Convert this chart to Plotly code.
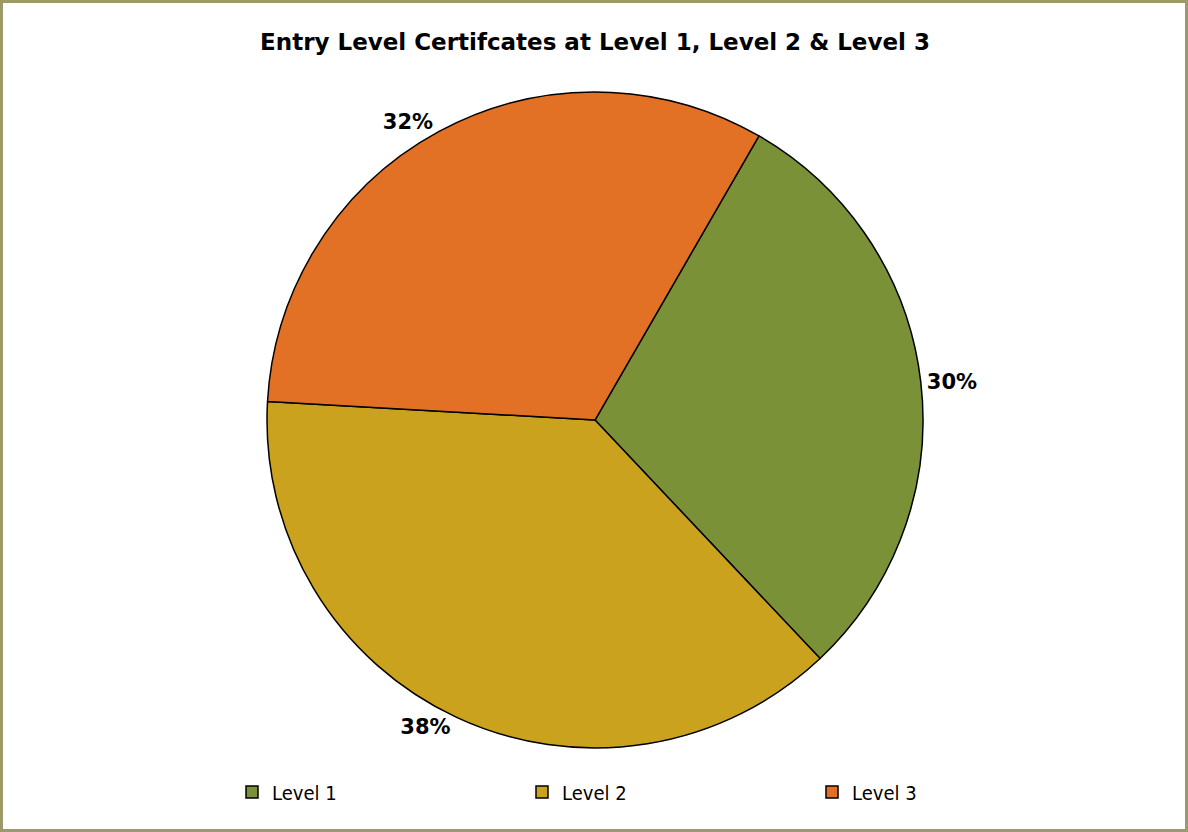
import plotly.graph_objects as go

categories = ["Level 1", "Level 2", "Level 3"]
values = [29.6, 37.9, 32.4]
colors = ["#7B9138", "#CBA21D", "#E27126"]

W, H = 1188, 832
cx, cy, r = 595, 420, 328

fig = go.Figure(go.Pie(
    labels=categories,
    values=values,
    sort=False,
    direction="clockwise",
    rotation=30,
    marker=dict(colors=colors, line=dict(color="black", width=1.5)),
    textposition="outside",
    texttemplate="<b>%{percent:.0%}</b>",
    textfont=dict(family="DejaVu Sans", size=21, color="black"),
    domain=dict(x=[(cx - r) / W, (cx + r) / W], y=[1 - (cy + r) / H, 1 - (cy - r) / H]),
    showlegend=True,
))

fig.update_layout(
    width=W, height=H,
    margin=dict(l=0, r=0, t=0, b=0),
    paper_bgcolor="white",
    title=dict(text="<b>Entry Level Certifcates at Level 1, Level 2 & Level 3</b>",
               x=595 / W, xanchor="center", y=1 - 42 / H, yanchor="middle",
               font=dict(family="DejaVu Sans", size=23, color="black")),
    legend=dict(orientation="h", x=232 / W, xanchor="left", y=1 - 792 / H, yanchor="middle",
                font=dict(family="DejaVu Sans Condensed, DejaVu Sans", size=20, color="black"),
                entrywidth=245, entrywidthmode="pixels", itemwidth=30,
                bgcolor="rgba(0,0,0,0)"),
    shapes=[dict(type="rect", xref="paper", yref="paper", x0=1.5 / W, x1=1 - 1.5 / W,
                 y0=1.5 / H, y1=1 - 1.5 / H, line=dict(color="#9C9A68", width=3),
                 fillcolor="rgba(0,0,0,0)")],
)

fig.write_html("out.html", config={"displayModeBar": False},
               post_script="document.body.style.margin='0';")
